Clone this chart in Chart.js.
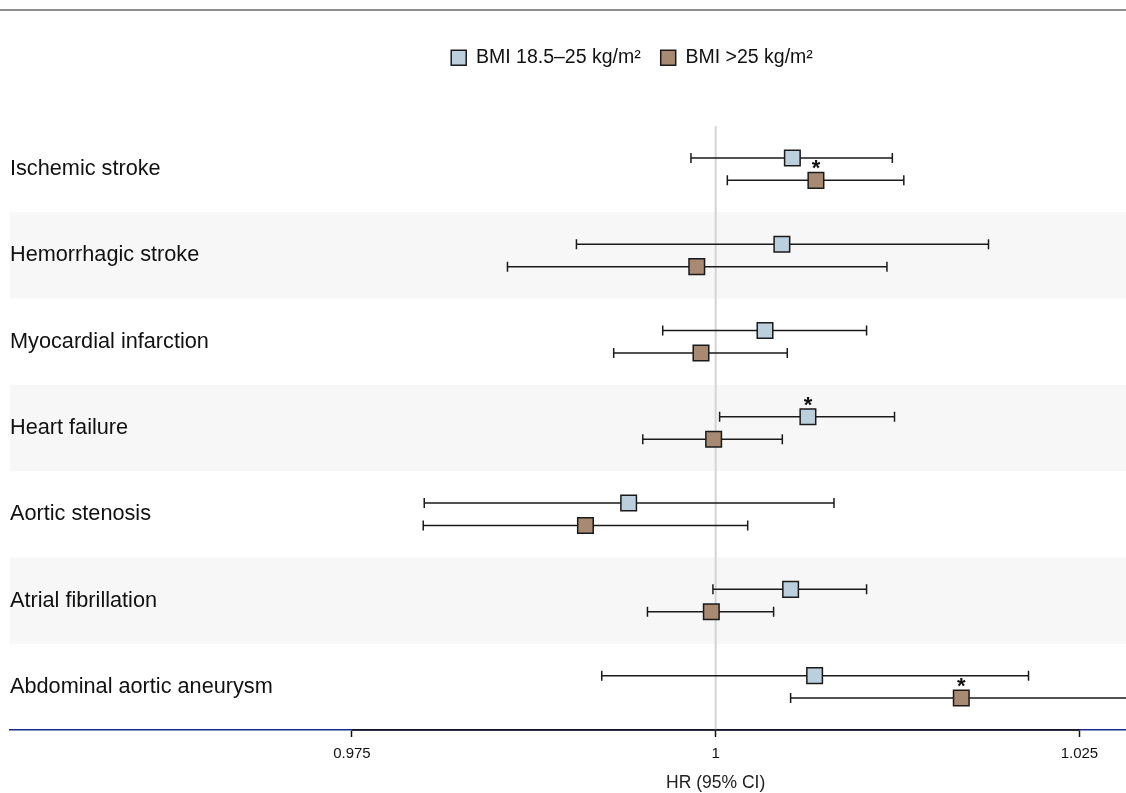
<!DOCTYPE html>
<html>
<head>
<meta charset="utf-8">
<script src="https://cdn.jsdelivr.net/npm/chart.js@4.4.1/dist/chart.umd.min.js"></script>
<style>
  html, body { margin: 0; padding: 0; background: #fff; }
  #wrap { width: 1126px; height: 793px; }
</style>
</head>
<body>
<div id="wrap"><canvas id="grafikForest"></canvas></div>
<script>
// Data
const outcomes = ['Ischemic stroke', 'Hemorrhagic stroke', 'Myocardial infarction', 'Heart failure',
  'Aortic stenosis', 'Atrial fibrillation', 'Abdominal aortic aneurysm'];

const normalHR = [1.00527, 1.00455, 1.00339, 1.00634, 0.99402, 1.00515, 1.00680];
const normalLo = [0.99830, 0.99043, 0.99636, 1.00027, 0.97997, 0.99981, 0.99217];
const normalHi = [1.01214, 1.01875, 1.01037, 1.01229, 1.00813, 1.01037, 1.02150];
const normalSig = [false, false, false, true, false, false, false];

const overHR = [1.00689, 0.99870, 0.99899, 0.99986, 0.99105, 0.99970, 1.01688];
const overLo = [1.00080, 0.98569, 0.99299, 0.99499, 0.97990, 0.99531, 1.00515];
const overHi = [1.01293, 1.01177, 1.00492, 1.00458, 1.00220, 1.00398, 1.03200];
const overSig = [true, false, false, false, false, false, true];

const xTicks = [0.975, 1, 1.025];

const FONT = "'Liberation Sans', Arial, Helvetica, sans-serif";
const ROW_SHIFT = 0.13;
const LEGEND_SHIFT = 64;

const series = [
  { hr: normalHR, lo: normalLo, hi: normalHi, sig: normalSig, shift: -ROW_SHIFT },
  { hr: overHR, lo: overLo, hi: overHi, sig: overSig, shift: ROW_SHIFT }
];

// bands, reference line, whiskers
const forestBack = {
  id: 'forestBack',
  beforeDatasetsDraw(chart) {
    const { ctx, chartArea: a, scales: { x, y } } = chart;
    ctx.save();
    // top rule
    ctx.fillStyle = '#8c8c8c';
    ctx.fillRect(0, 9, chart.width, 2);
    // zebra bands
    ctx.fillStyle = '#f7f7f7';
    outcomes.forEach((o, i) => {
      if (i % 2 === 1) {
        const t = y.getPixelForValue(i), b = y.getPixelForValue(i + 1);
        ctx.fillRect(a.left, t, a.right - a.left, b - t);
      }
    });
    // reference line at HR = 1
    const x1 = x.getPixelForValue(1);
    ctx.strokeStyle = '#d4d4d4';
    ctx.lineWidth = 2;
    ctx.beginPath();
    ctx.moveTo(x1, a.top);
    ctx.lineTo(x1, a.bottom);
    ctx.stroke();
    // confidence intervals
    ctx.beginPath();
    ctx.rect(a.left, a.top, a.right - a.left, a.bottom - a.top);
    ctx.clip();
    ctx.strokeStyle = '#1a1a1a';
    ctx.lineWidth = 1.5;
    series.forEach(s => {
      outcomes.forEach((o, i) => {
        const py = y.getPixelForValue(i + 0.5 + s.shift);
        const l = x.getPixelForValue(s.lo[i]), r = x.getPixelForValue(s.hi[i]);
        ctx.beginPath();
        ctx.moveTo(l, py); ctx.lineTo(r, py);
        ctx.moveTo(l, py - 5); ctx.lineTo(l, py + 5);
        ctx.moveTo(r, py - 5); ctx.lineTo(r, py + 5);
        ctx.stroke();
      });
    });
    ctx.restore();
  },
  afterDatasetsDraw(chart) {
    const { ctx, chartArea: a, scales: { x, y } } = chart;
    ctx.save();
    // row labels
    ctx.fillStyle = '#111';
    ctx.font = '21.7px ' + FONT;
    ctx.textAlign = 'left';
    ctx.textBaseline = 'middle';
    outcomes.forEach((o, i) => ctx.fillText(o, a.left, y.getPixelForValue(i + 0.5)));
    // significance stars
    ctx.font = 'bold 22px ' + FONT;
    ctx.textAlign = 'center';
    series.forEach(s => {
      outcomes.forEach((o, i) => {
        if (s.sig[i]) {
          ctx.fillText('*', x.getPixelForValue(s.hr[i]), y.getPixelForValue(i + 0.5 + s.shift) - 11);
        }
      });
    });
    // axis: black between outer ticks, title under HR = 1
    ctx.strokeStyle = '#111';
    ctx.lineWidth = 1.5;
    ctx.beginPath();
    ctx.moveTo(x.getPixelForValue(xTicks[0]), a.bottom);
    ctx.lineTo(x.getPixelForValue(xTicks[xTicks.length - 1]), a.bottom);
    ctx.stroke();
    ctx.font = '17.5px ' + FONT;
    ctx.fillStyle = '#222';
    ctx.fillText('HR (95% CI)', x.getPixelForValue(1), 783);
    ctx.restore();
  }
};

// extra room under the legend, and legend sits right of centre
const legendSpacer = {
  id: 'legendSpacer',
  beforeInit(chart) {
    const legend = chart.legend;
    const fit = legend.fit;
    legend.fit = function () {
      fit.call(this);
      this.height += 48.5;
    };
    const draw = legend.draw;
    legend.draw = function () {
      const ctx = this.ctx;
      ctx.save();
      ctx.translate(LEGEND_SHIFT, 0);
      draw.apply(this, arguments);
      ctx.restore();
    };
  }
};

const ctxForest = document.getElementById('grafikForest');
let grafikForest = new Chart(ctxForest, {
  type: 'scatter',
  data: {
    datasets: [{
      label: 'BMI 18.5–25 kg/m²',
      data: outcomes.map((o, i) => ({ x: normalHR[i], y: i + 0.5 - ROW_SHIFT })),
      backgroundColor: '#bccfdc',
      borderColor: '#1a1a1a',
      borderWidth: 1.5,
      pointStyle: 'rect',
      pointRadius: 11,
      pointHoverRadius: 11
    }, {
      label: 'BMI >25 kg/m²',
      data: outcomes.map((o, i) => ({ x: overHR[i], y: i + 0.5 + ROW_SHIFT })),
      backgroundColor: '#a88a72',
      borderColor: '#1a1a1a',
      borderWidth: 1.5,
      pointStyle: 'rect',
      pointRadius: 11,
      pointHoverRadius: 11
    }]
  },
  options: {
    responsive: true,
    maintainAspectRatio: false,
    animation: false,
    layout: { autoPadding: false, padding: { top: 28, left: 10, right: 0, bottom: 22 } },
    plugins: {
      tooltip: { enabled: false },
      legend: {
        position: 'top',
        labels: {
          color: '#111',
          font: { family: FONT, size: 19.5 },
          boxWidth: 15,
          boxHeight: 15,
          padding: 20
        }
      }
    },
    scales: {
      x: {
        type: 'linear',
        min: 0.9515,
        max: 1.0282,
        afterBuildTicks: axis => { axis.ticks = xTicks.map(v => ({ value: v })); },
        afterFit: axis => { axis.paddingLeft = 0; axis.paddingRight = 0; },
        ticks: {
          color: '#111',
          font: { family: FONT, size: 15 },
          padding: 8,
          maxRotation: 0,
          callback: v => String(v)
        },
        grid: { drawOnChartArea: false, color: '#111', tickLength: 7, tickWidth: 1.5 },
        border: { color: '#1c2a8a', width: 1.5 }
      },
      y: {
        type: 'linear',
        min: 0,
        max: outcomes.length,
        reverse: true,
        display: false
      }
    }
  },
  plugins: [legendSpacer, forestBack]
});
</script>
</body>
</html>
